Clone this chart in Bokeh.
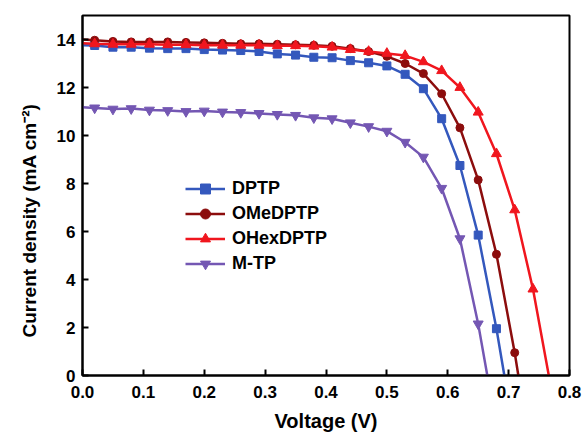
from bokeh.plotting import figure
from bokeh.models import Range1d, FixedTicker, Legend, LegendItem, Title
from bokeh.embed import file_html
from bokeh.resources import INLINE

# Marker voltages (V)
v_mark = [0.02, 0.05, 0.08, 0.11, 0.14, 0.17, 0.20, 0.23, 0.26, 0.29, 0.32, 0.35,
          0.38, 0.41, 0.44, 0.47, 0.50, 0.53, 0.56, 0.59, 0.62, 0.65, 0.68, 0.71, 0.74]

series = ["DPTP", "OMeDPTP", "OHexDPTP", "M-TP"]

j_dptp = [13.75, 13.68, 13.68, 13.64, 13.62, 13.62, 13.58, 13.56, 13.54, 13.50, 13.40, 13.35,
          13.26, 13.24, 13.12, 13.03, 12.90, 12.55, 11.95, 10.70, 8.75, 5.85, 1.95]
j_ome = [13.97, 13.92, 13.90, 13.90, 13.90, 13.88, 13.86, 13.84, 13.82, 13.82, 13.80, 13.78,
         13.76, 13.72, 13.62, 13.50, 13.30, 13.00, 12.58, 11.74, 10.32, 8.15, 5.05, 0.95]
j_ohex = [13.82, 13.80, 13.80, 13.80, 13.78, 13.78, 13.76, 13.76, 13.76, 13.76, 13.74, 13.74,
          13.72, 13.68, 13.58, 13.50, 13.42, 13.33, 13.07, 12.70, 12.00, 10.97, 9.24, 6.90, 3.60]
j_mtp = [11.15, 11.10, 11.12, 11.06, 11.04, 11.00, 11.02, 10.98, 10.96, 10.92, 10.88, 10.84,
         10.74, 10.70, 10.53, 10.37, 10.18, 9.72, 9.10, 7.80, 5.70, 2.15]

# short-circuit current (V = 0) and open-circuit voltage (J = 0)
jsc = [13.76, 14.00, 13.84, 11.18]
voc = [0.693, 0.716, 0.766, 0.665]

colors = ["#3458bd", "#8c0d0d", "#f0161e", "#7457b3"]
markers = ["square", "circle", "triangle", "inverted_triangle"]
msizes = [8, 8, 10, 10]

x_ticks = [0.0, 0.1, 0.2, 0.3, 0.4, 0.5, 0.6, 0.7, 0.8]
y_ticks = [0, 2, 4, 6, 8, 10, 12, 14]

FONT = "Liberation Sans"

p = figure(width=582, height=434, output_backend="svg", toolbar_location=None,
           x_range=Range1d(0, 0.8), y_range=Range1d(0, 15),
           min_border_left=82, min_border_right=13, min_border_top=15, min_border_bottom=59)
p.grid.visible = False
p.outline_line_color = "black"
p.outline_line_width = 2
p.background_fill_color = "white"
p.border_fill_color = "white"

items = []
for name, js, col, mk, ms, j0, vo in zip(series, [j_dptp, j_ome, j_ohex, j_mtp], colors,
                                         markers, msizes, jsc, voc):
    vm = v_mark[:len(js)]
    lx = [0.0] + vm + [vo]
    ly = [j0] + js + [0.0]
    r1 = p.line(lx, ly, line_color=col, line_width=2.5)
    r2 = p.scatter(vm, js, marker=mk, size=ms, fill_color=col, line_color=col)
    items.append(LegendItem(label=name, renderers=[r1, r2]))

legend = Legend(items=items, location=(103, 99), border_line_color=None,
                background_fill_alpha=0, padding=0, margin=0, spacing=0,
                glyph_width=40, glyph_height=25, label_height=25, label_standoff=7,
                label_text_font=FONT, label_text_font_style="bold",
                label_text_font_size="18px", label_text_color="black")
p.add_layout(legend, "center")

for ax in (p.xaxis[0], p.yaxis[0]):
    ax.axis_line_width = 2
    ax.axis_line_color = "black"
    ax.major_tick_in = 6
    ax.major_tick_out = 0
    ax.major_tick_line_width = 2
    ax.minor_tick_line_color = None
    ax.major_label_text_font = FONT
    ax.major_label_text_font_style = "bold"
    ax.major_label_text_font_size = "17px"
    ax.major_label_text_color = "black"
    ax.axis_label_text_font = FONT
    ax.axis_label_text_font_style = "bold"
    ax.axis_label_text_font_size = "20px"
    ax.axis_label_text_color = "black"

p.xaxis.ticker = FixedTicker(ticks=x_ticks)
p.yaxis.ticker = FixedTicker(ticks=y_ticks)
p.xaxis.major_label_overrides = {t: f"{t:.1f}" for t in x_ticks}
p.yaxis.major_label_overrides = {t: str(t) for t in y_ticks}
p.xaxis.axis_label = "Voltage (V)"
p.xaxis.major_label_standoff = 10
p.xaxis.axis_label_standoff = 9
p.yaxis.major_label_standoff = 7

# y-axis title as a side title, its start placed a little above the frame's bottom
ytitle = Title(text="Current density (mA cm\u207b\u00b2)", align="left", offset=38,
               standoff=27, text_font=FONT, text_font_style="bold",
               text_font_size="19px", text_color="black")
p.add_layout(ytitle, "left")

open("out.html", "w").write(file_html(p, INLINE))
